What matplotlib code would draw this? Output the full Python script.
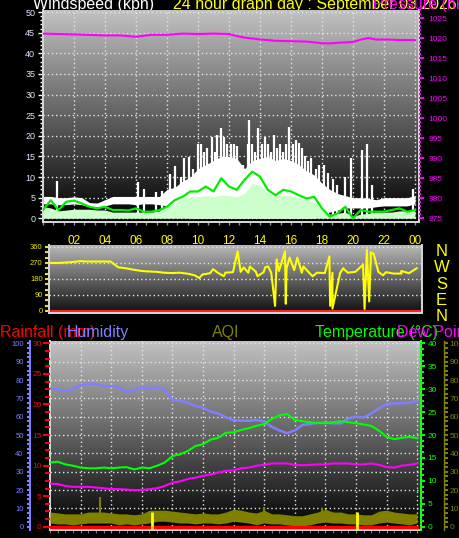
import numpy as np
import matplotlib
matplotlib.use('Agg')
import matplotlib.pyplot as plt
from matplotlib.ticker import MultipleLocator

plt.rcParams['font.family'] = ['Liberation Sans', 'DejaVu Sans']

W, H, DPI = 460, 538, 100
PT = 72 / DPI  # points per pixel

# half-hour time base, hours since midnight
half_hours = np.arange(0, 24.5, 0.5)
hour_ticks = [2, 4, 6, 8, 10, 12, 14, 16, 18, 20, 22, 24]
hour_labels = ['02', '04', '06', '08', '10', '12', '14', '16', '18', '20', '22', '00']

# ---- wind (kph), read every half hour ----
gust_low = [3.5, 3.5, 3.3, 3.3, 3.5, 3.3, 2.8, 2.8,
            3.0, 3.5, 3.5, 3.5, 3.3, 3.5, 3.5, 3.3,
            3.0, 2.0, 0.5, 0.0, 0.0, 0.0, 0.0, 0.0,
            0.0, 0.0, 0.0, 0.0, 0.0, 0.0, 0.0, 0.0,
            0.0, 0.0, 0.0, 0.0, 1.0, 1.5, 2.0, 2.5,
            2.5, 2.5, 2.5, 2.8, 3.0, 3.0, 3.0, 3.0,
            3.5]
gust_top = [5.3, 5.3, 5.0, 5.0, 5.2, 5.0, 3.8, 3.7,
            4.5, 5.3, 5.3, 5.3, 5.3, 5.3, 5.3, 5.3,
            7.0, 7.5, 9.0, 10.0, 12.0, 13.0, 14.0, 15.0,
            15.0, 14.5, 12.0, 14.0, 14.5, 15.0, 14.0, 14.5,
            14.0, 13.0, 11.5, 10.5, 8.5, 7.0, 6.0, 5.5,
            5.0, 5.0, 4.8, 4.5, 5.0, 5.0, 5.0, 5.0,
            5.5]
gust_peak_hour = [0.9, 6.15, 6.5, 7.3, 7.7, 8.2, 8.5, 8.9, 9.1, 9.4, 9.7,
                  10.0, 10.2, 10.4, 10.6, 10.9, 11.1, 11.2, 11.5, 11.7, 11.9,
                  12.1, 12.3, 12.5, 12.9, 13.2, 13.3, 13.5, 13.7, 13.9, 14.1,
                  14.3, 14.5, 14.7, 14.9, 15.1, 15.3, 15.5, 15.7, 15.9, 16.1,
                  16.3, 16.5, 16.7, 16.9, 17.1, 17.3, 17.6, 17.8, 18.1, 18.4,
                  18.7, 19.0, 19.5, 19.9, 20.6, 20.9, 21.2, 23.9]
gust_peak_kph = [9.0, 8.8, 7.0, 6.4, 6.5, 10.8, 12.6, 10.0, 14.5, 14.9, 12.0,
                 18.1, 18.1, 16.0, 17.0, 19.7, 16.0, 20.1, 21.8, 19.7, 18.0,
                 18.1, 18.0, 17.5, 13.0, 18.0, 23.8, 18.0, 16.0, 21.8, 18.0,
                 19.7, 18.0, 16.0, 20.1, 17.0, 18.0, 16.0, 18.0, 22.2, 18.0,
                 19.0, 18.2, 17.0, 15.0, 14.0, 14.5, 12.0, 13.0, 12.9, 11.0,
                 9.5, 8.0, 10.0, 14.5, 16.5, 18.1, 8.0, 7.0]
speed_top = [2.8, 2.5, 1.8, 2.0, 2.2, 2.2, 2.2, 2.0,
             2.0, 1.5, 1.5, 1.5, 1.5, 1.5, 1.5, 1.8,
             3.0, 3.5, 5.0, 5.2, 5.2, 5.5, 5.2, 5.6,
             5.5, 5.2, 6.0, 8.5, 8.0, 6.0, 5.5, 5.5,
             5.5, 5.0, 4.5, 4.0, 2.0, 1.0, 1.2, 1.5,
             0.5, 1.0, 1.2, 1.5, 1.5, 1.5, 1.8, 1.8,
             1.8]
wind_avg = [2.0, 4.4, 2.0, 4.0, 4.3, 3.6, 2.8, 2.4,
            2.8, 2.0, 2.0, 1.9, 2.4, 1.6, 1.6, 2.0,
            2.8, 4.4, 5.2, 6.5, 6.5, 7.7, 6.5, 9.7,
            7.7, 6.9, 9.3, 11.3, 10.1, 6.9, 5.6, 6.9,
            6.5, 5.6, 4.8, 5.2, 2.4, 0.4, 1.2, 2.8,
            0.0, 2.0, 1.6, 1.6, 1.6, 2.0, 2.4, 1.6,
            2.0]

# ---- pressure (hPa) ----
pressure_hour = [0, 2, 4, 5, 6, 7, 8, 9, 10, 11, 12, 12.5, 13, 14, 15, 16,
                 17, 18, 18.5, 19, 20, 20.5, 21, 21.5, 22, 23, 24]
pressure_hpa = [1021.2, 1021.0, 1020.75, 1020.75, 1020.4, 1020.9, 1020.9,
                1021.2, 1021.1, 1021.2, 1021.1, 1020.6, 1020.2, 1019.75,
                1019.4, 1019.3, 1019.2, 1018.8, 1018.75, 1018.9, 1019.1,
                1019.7, 1020.1, 1019.7, 1019.75, 1019.6, 1019.6]

# ---- wind direction (degrees) ----
dir_base = [270, 270, 272, 275, 280, 278, 278, 278,
            278, 245, 240, 232, 225, 222, 220, 215,
            213, 215, 210, 200, 205, 212, 215, 215,
            218, 220, 215, 220, 218, 215, 225, 240,
            230, 215, 213, 215, 213, 215, 213, 215,
            220, 260, 280, 220, 218, 210, 210, 212,
            240]
dir_spike_hour = [9.8, 10.7, 11.4, 12.3, 12.7, 13.1, 13.6, 14.1, 14.3, 14.75,
                  14.85, 15.4, 15.45, 15.7, 16.2, 16.6, 17.2, 18.3, 18.35, 18.5,
                  19.2, 20.6, 20.75, 20.9, 21.0, 21.2, 21.8, 23.0]
dir_spike_deg = [185, 235, 195, 335, 245, 250, 195, 245, 250, 28,
                 290, 335, 40, 300, 300, 250, 195, 307, 28, 13,
                 240, 11, 345, 53, 330, 320, 200, 225]

# ---- bottom graph ----
humidity = [75.5, 75.0, 74.0, 75.0, 77.3, 78.0, 78.0, 76.7,
            76.7, 76.0, 73.6, 74.5, 76.0, 75.5, 76.0, 74.5,
            69.0, 68.7, 67.6, 65.8, 65.0, 62.7, 61.8, 59.6,
            58.2, 57.8, 57.8, 58.2, 57.3, 54.5, 52.5, 51.0,
            52.5, 55.5, 56.0, 56.7, 56.7, 56.4, 56.4, 59.0,
            60.0, 59.6, 61.8, 64.5, 66.9, 67.3, 67.3, 67.6,
            68.7]
temperature = [14.0, 14.2, 13.6, 13.3, 12.9, 12.75, 12.75, 12.9,
               12.75, 12.9, 13.0, 12.5, 12.9, 12.75, 13.3, 14.0,
               15.4, 15.8, 16.5, 17.6, 18.0, 19.0, 19.4, 20.5,
               20.6, 21.1, 21.5, 22.0, 22.4, 23.5, 24.3, 24.6,
               23.3, 23.0, 22.8, 22.6, 22.6, 22.8, 23.0, 22.8,
               22.6, 22.3, 22.0, 20.95, 19.6, 19.1, 19.4, 19.6,
               19.3]
dew_point = [9.4, 9.3, 8.9, 8.7, 8.7, 8.7, 8.55, 8.4,
             8.2, 8.2, 8.1, 8.0, 8.0, 8.2, 8.4, 8.9,
             9.6, 9.9, 10.4, 10.7, 11.1, 11.4, 11.8, 12.2,
             12.3, 12.75, 12.9, 13.3, 13.5, 13.8, 13.8, 13.8,
             13.5, 13.4, 13.5, 13.6, 13.6, 13.8, 13.8, 13.8,
             13.6, 13.6, 13.8, 13.5, 13.0, 12.9, 13.3, 13.5,
             13.8]
aqi_low = [2, 1.5, 1.5, 1, 1.5, 2, 2, 2,
           2, 1, 1.5, 1, 1.5, 2, 3, 3,
           2.5, 2, 2, 1.5, 2, 2, 1.5, 2,
           3, 2.5, 2, 1, 2, 1.5, 1.5, 1,
           0.5, 0.5, 1, 2, 2.5, 2, 2, 1.5,
           1.5, 1, 1, 2, 2.5, 2, 1.5, 1,
           2]
aqi_high = [8, 7.5, 7, 7, 7, 8, 8, 8,
            7.5, 7, 7, 6.5, 7, 9, 9, 9,
            8.5, 8, 7.5, 7, 7.5, 7, 7, 8,
            9.5, 9, 8, 7.5, 9, 7, 7, 6.5,
            6, 6, 7, 8, 9.5, 8, 8, 7,
            7, 6.5, 6.5, 8.5, 9, 8, 7.5, 7,
            7]
aqi_spike_hour = [3.3, 14.0, 16.4, 17.8]
aqi_spike_val = [16.0, 10.7, 0.0, 10.0]
rain_hour = [0, 24]
rain_mm = [0.0, 0.0]
sun_marks = [6.65, 20.05]  # sunrise / sunset

GRID = dict(color='#e4e4e4', linestyle=(0, (1, 2)), linewidth=1.0)
FRAME = '#d4d4d4'


def px_axes(fig, x0, y0, x1, y1):
    return fig.add_axes([x0 / W, 1 - y1 / H, (x1 - x0) / W, (y1 - y0) / H])


def gradient(ax, top, bottom):
    g = np.linspace(top, bottom, 256).reshape(-1, 1)
    ax.imshow(g, cmap='gray', vmin=0, vmax=1, aspect='auto', extent=[0, 1, 0, 1],
              transform=ax.transAxes, zorder=0, interpolation='bilinear')


def frame(ax, sides):
    for name, sp in ax.spines.items():
        sp.set_visible(name in sides)
        sp.set_color(FRAME)
        sp.set_linewidth(2 * PT)


fig = plt.figure(figsize=(W / DPI, H / DPI), dpi=DPI)
fig.patch.set_facecolor('black')

# ================= wind / pressure =================
ax_w = px_axes(fig, 43, 10, 419, 222)
ax_w.set_facecolor('black')
gradient(ax_w, 0.76, 0.0)
ax_w.set_axisbelow(True)
ax_w.vlines(gust_peak_hour, 0, gust_peak_kph, color='white', lw=1.6, zorder=2)
ax_w.fill_between(half_hours, gust_low, gust_top, color='white', lw=0, zorder=2)
ax_w.fill_between(half_hours, 0, speed_top, color='#ccffcc', lw=0, zorder=3)
ax_w.plot(half_hours, wind_avg, color='#00ee00', lw=1.6, zorder=4)
ax_w.set_xlim(0, 376 / 15.5)
ax_w.set_ylim(-0.9, 50.5)
ax_w.yaxis.set_major_locator(MultipleLocator(5))
ax_w.yaxis.set_minor_locator(MultipleLocator(1))
ax_w.set_xticks(hour_ticks, hour_labels)
ax_w.xaxis.set_minor_locator(MultipleLocator(2 / 3))
ax_w.grid(True, which='major', **GRID)
ax_w.tick_params(axis='y', which='major', colors='white', labelcolor='#dde8ff',
                 length=5 * PT, width=1, labelsize=6.5, pad=2)
ax_w.tick_params(axis='y', which='minor', colors='white', length=3 * PT, width=1)
ax_w.tick_params(axis='x', which='both', colors='#909090', labelcolor='#ffff00',
                 length=3 * PT, width=1, labelsize=8.5, pad=7)
frame(ax_w, ('left', 'bottom', 'right'))

ax_p = ax_w.twinx()
ax_p.plot(pressure_hour, pressure_hpa, color='#ff00ff', lw=1.5)
ax_p.set_ylim(974.1, 1027.1)
ax_p.yaxis.set_major_locator(MultipleLocator(5))
ax_p.yaxis.set_minor_locator(MultipleLocator(1))
ax_p.tick_params(axis='y', which='major', colors='#ff00ff', length=5 * PT,
                 width=1.5, labelsize=6, pad=3)
ax_p.tick_params(axis='y', which='minor', colors='#ff00ff', length=2.5 * PT, width=1.5)
frame(ax_p, ())

# ================= wind direction =================
dir_hours = np.concatenate([half_hours, dir_spike_hour])
dir_vals = np.concatenate([dir_base, dir_spike_deg])
order = np.argsort(dir_hours, kind='stable')

ax_d = px_axes(fig, 49.4, 245, 422, 313)
ax_d.set_facecolor('black')
gradient(ax_d, 0.72, 0.06)
ax_d.set_axisbelow(True)
ax_d.axhline(0, color='#ff2020', lw=1.5, zorder=2)
ax_d.plot(dir_hours[order], dir_vals[order], color='#ffff00', lw=1.5, zorder=3)
ax_d.set_xlim(0, 372.6 / 15.3)
ax_d.set_ylim(-12, 371)
ax_d.set_yticks([0, 90, 180, 270, 360])
ax_d.yaxis.set_minor_locator(MultipleLocator(30))
ax_d.set_xticks([])
ax_d.grid(True, axis='y', **GRID)
ax_d.tick_params(axis='y', which='both', colors='#e8e800', length=4 * PT,
                 width=1.5, labelsize=5.5, pad=2)
frame(ax_d, ('left', 'bottom', 'right'))

for i, letter in enumerate(['N', 'W', 'S', 'E', 'N']):
    fig.text(441.5 / W, 1 - (256 + 16.3 * i) / H, letter, color='#ffff00',
             fontsize=12, ha='center', va='baseline')

# ================= rain / humidity / AQI / temperature =================
hum_lim = (-1.8, 101.3)

ax_b = px_axes(fig, 50, 341, 421, 530)
ax_b.set_facecolor('black')
gradient(ax_b, 0.76, 0.0)
ax_b.set_axisbelow(True)
ax_b.set_xlim(0, 371 / 15.3)
ax_b.set_ylim(hum_lim)
ax_b.yaxis.set_major_locator(MultipleLocator(10))
ax_b.set_xticks(hour_ticks)
ax_b.xaxis.set_minor_locator(MultipleLocator(0.5))
ax_b.grid(True, which='major', **GRID)
ax_b.tick_params(axis='y', left=False, labelleft=False)
ax_b.tick_params(axis='x', which='both', colors='#909090', length=3 * PT,
                 labelbottom=False)
frame(ax_b, ('left', 'bottom', 'right'))

ax_q = ax_b.twinx()
ax_q.fill_between(half_hours, aqi_low, aqi_high, color='#808000', lw=0)
ax_q.vlines(aqi_spike_hour, np.interp(aqi_spike_hour, half_hours, aqi_low),
            aqi_spike_val, color='#808000', lw=1.5)
ax_q.set_ylim(hum_lim)
ax_q.yaxis.set_major_locator(MultipleLocator(10))
ax_q.yaxis.set_minor_locator(MultipleLocator(2.5))
ax_q.tick_params(axis='y', which='both', colors='#808000', length=4 * PT,
                 width=1.5, labelsize=6, pad=1)
frame(ax_q, ('right',))
ax_q.spines['right'].set_position(('outward', 23 * PT))
ax_q.spines['right'].set_color('#808000')
ax_q.spines['right'].set_linewidth(1)

ax_rain = ax_b.twinx()
ax_rain.plot(rain_hour, rain_mm, color='#ff0000', lw=2.5)
ax_rain.set_ylim(hum_lim[0] * 0.3, hum_lim[1] * 0.3)
ax_rain.yaxis.tick_left()
ax_rain.yaxis.set_major_locator(MultipleLocator(5))
ax_rain.yaxis.set_minor_locator(MultipleLocator(1.25))
ax_rain.tick_params(axis='y', which='major', colors='#ff0000', length=7 * PT,
                    width=1.5, labelsize=6, pad=1)
ax_rain.tick_params(axis='y', which='minor', colors='#ff0000', length=5 * PT, width=1.5)
frame(ax_rain, ())

ax_h = ax_b.twinx()
ax_h.plot(half_hours, humidity, color='#7f7fff', lw=1.8)
ax_h.vlines(sun_marks, hum_lim[0], 8.0, color='#ffff00', lw=2)
ax_h.set_ylim(hum_lim)
ax_h.yaxis.tick_left()
ax_h.yaxis.set_major_locator(MultipleLocator(10))
ax_h.yaxis.set_minor_locator(MultipleLocator(2.5))
ax_h.tick_params(axis='y', which='both', colors='#7f7fff', length=3.5 * PT,
                 width=1.5, labelsize=5.5, pad=2)
frame(ax_h, ('left',))
ax_h.spines['left'].set_position(('outward', 20 * PT))
ax_h.spines['left'].set_color('#7f7fff')

ax_t = ax_b.twinx()
ax_t.plot(half_hours, temperature, color='#00ff00', lw=1.5)
ax_t.plot(half_hours, dew_point, color='#ff00ff', lw=1.5)
ax_t.set_ylim(hum_lim[0] * 0.4, hum_lim[1] * 0.4)
ax_t.yaxis.set_major_locator(MultipleLocator(5))
ax_t.yaxis.set_minor_locator(MultipleLocator(1.25))
ax_t.tick_params(axis='y', which='major', colors='#00ff00', length=4 * PT,
                 width=1.5, labelsize=6, pad=2)
ax_t.tick_params(axis='y', which='minor', colors='#00ff00', length=3 * PT, width=1.5)
frame(ax_t, ('right',))
ax_t.spines['right'].set_color('#00ff00')
ax_t.spines['right'].set_linewidth(1.2)

# ================= titles =================
TITLE = 11.5


def label(x, y, s, color):
    # drawn under the axes so the plot area hides anything below its top edge
    fig.text(x / W, 1 - y / H, s, color=color, fontsize=TITLE, va='baseline',
             zorder=-1)


label(33, 9.5, 'Windspeed (kph)', 'white')
label(173, 9.5, '24 hour graph day : September 03 2026', '#ffff00')
label(373, 9.5, 'Pressure (hPa)', '#ff00ff')
label(0, 337, 'Rainfall (mm)', '#ff0000')
label(67, 337, 'Humidity', '#7f7fff')
label(212, 337, 'AQI', '#808000')
label(315, 337, 'Temperature (°C)', '#00ff00')
label(397, 337, 'Dew Point', '#ff00ff')

fig.savefig('out.png', dpi=DPI, facecolor='black')
